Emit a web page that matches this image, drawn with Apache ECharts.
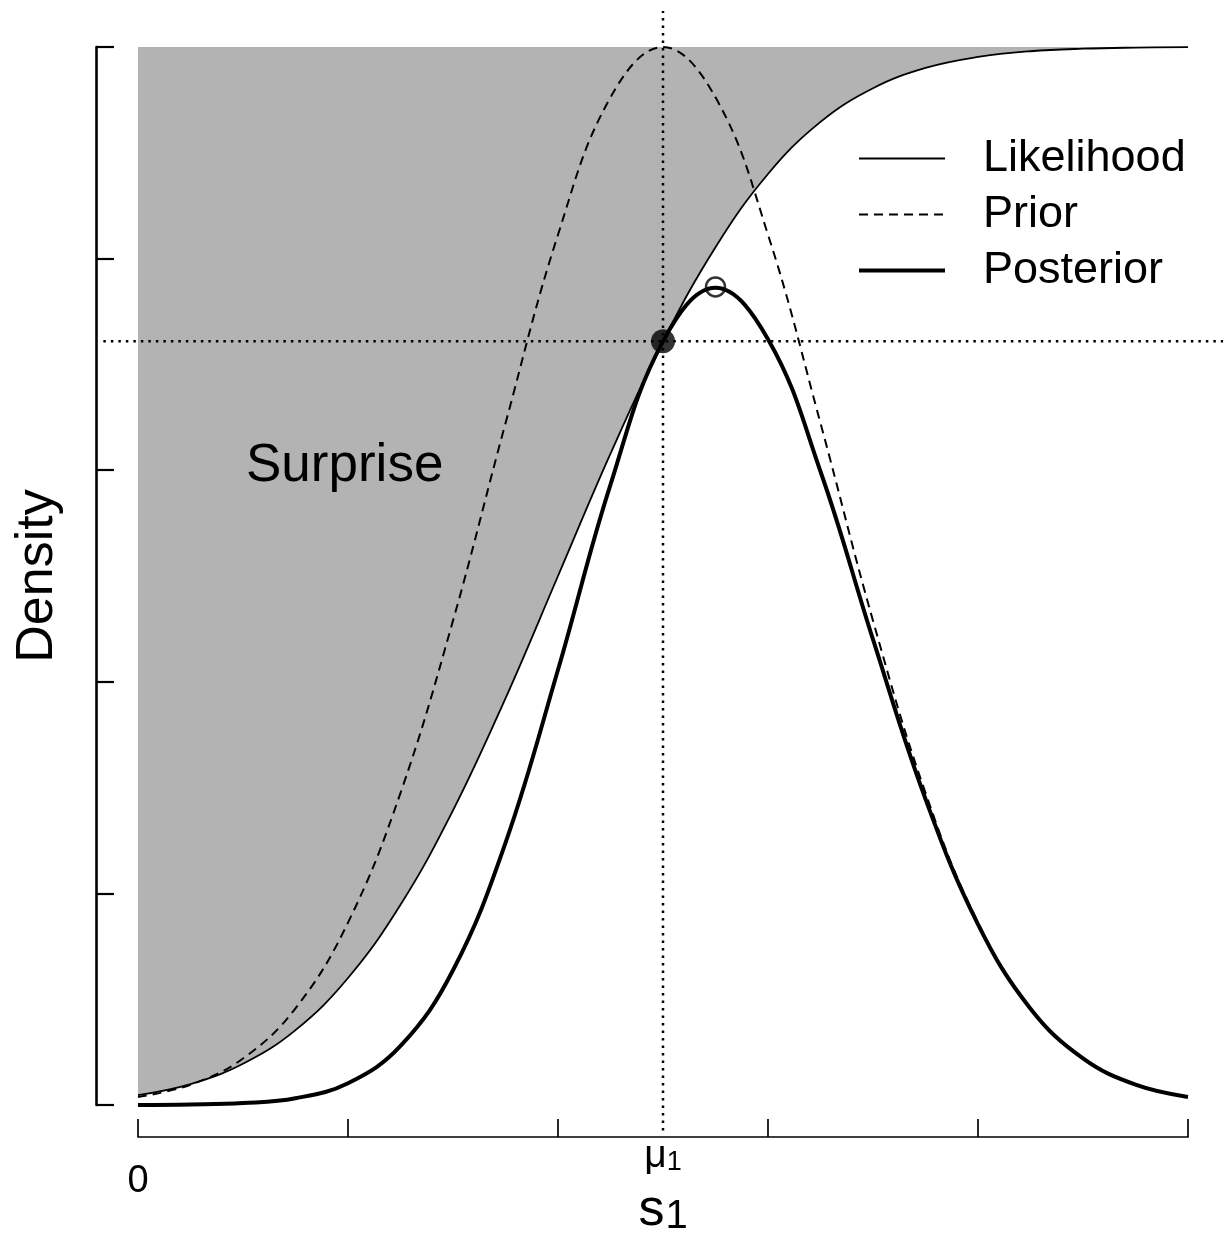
<!DOCTYPE html>
<html>
<head>
<meta charset="utf-8">
<script src="https://cdn.jsdelivr.net/npm/echarts@6/dist/echarts.min.js"></script>
<style>
html,body{margin:0;padding:0;background:#fff;}
#chart{width:1230px;height:1241px;}
</style>
</head>
<body>
<div id="chart"></div>
<script>
// x positions (s1), step 0.25
const xs = [0,0.25,0.5,0.75,1,1.25,1.5,1.75,2,2.25,2.5,2.75,3,3.25,3.5,3.75,4,4.25,4.5,4.75,5];
const likelihood = [0.047,0.099,0.195,0.354,0.600,0.946,1.392,1.922,2.500,3.078,3.609,4.054,4.400,4.646,4.805,4.901,4.953,4.980,4.992,4.997,4.999];
const prior = [0.038,0.096,0.220,0.457,0.862,1.475,2.289,3.222,4.113,4.762,5.000,4.762,4.113,3.222,2.289,1.475,0.862,0.457,0.220,0.096,0.038];
const posterior = [0.000,0.002,0.009,0.032,0.103,0.279,0.637,1.239,2.057,2.932,3.609,3.862,3.619,2.994,2.200,1.446,0.854,0.455,0.220,0.096,0.038];
const mu1 = 2.5;
const muDensity = 3.609;
const postPeak = [2.75, 3.866];
const vLineY = [-0.12, 5.17];
const hLineX = [-0.165, 5.167];
const xTicks = [0,1,2,3,4,5];
const legendNames = ['Likelihood','Prior','Posterior'];

const FONT = '"Liberation Sans", Arial, Helvetica, sans-serif';
const pair = (a, b) => a.map((v, i) => [v, b[i]]);
const dotted = {stroke: '#000', lineWidth: 2.5, lineDash: [2.5, 5]};

const chart = echarts.init(document.getElementById('chart'), null, {renderer:'canvas'});
chart.setOption({
  animation: false,
  backgroundColor: '#fff',
  textStyle: {fontFamily: FONT},
  grid: {left: 138, right: 42, top: 47, bottom: 136, containLabel: false, outerBoundsMode: 'none'},
  legend: {
    data: [
      {name: legendNames[0], lineStyle: {width: 2}},
      {name: legendNames[1], lineStyle: {width: 2}},
      {name: legendNames[2], lineStyle: {width: 4}}
    ],
    orient: 'vertical',
    left: 852, top: 131,
    itemWidth: 86, itemHeight: 20, itemGap: 11,
    selectedMode: false,
    itemStyle: {opacity: 0, color: 'rgba(0,0,0,0)', borderWidth: 0},
    textStyle: {fontSize: 45, fontFamily: FONT, color: '#000', padding: [0,0,0,33]}
  },
  xAxis: [{
    type: 'value', min: 0, max: 5, interval: 1, offset: 32, position: 'bottom',
    axisLine: {onZero: false, lineStyle: {color: '#000', width: 1.7}},
    axisTick: {inside: true, length: 18, customValues: xTicks, lineStyle: {color: '#000', width: 1.7}},
    axisLabel: {customValues: [0], fontSize: 38, color: '#000', margin: 26, fontFamily: FONT},
    splitLine: {show: false},
    name: '{s|s}{n|1}', nameLocation: 'middle', nameGap: 48, nameMoveOverlap: false,
    nameTextStyle: {rich: {
      s: {fontSize: 52, fontFamily: FONT, color: '#000', verticalAlign: 'bottom'},
      n: {fontSize: 40, fontFamily: FONT, color: '#000', verticalAlign: 'bottom', padding: [0,0,0,1]}
    }}
  }, {
    type: 'value', min: 0, max: 5, offset: 32, position: 'bottom',
    axisLine: {show: false, onZero: false}, axisTick: {show: false}, splitLine: {show: false},
    axisLabel: {customValues: [mu1], margin: 0, formatter: () => '{m|μ}{n|1}',
      rich: {
        m: {fontSize: 39, fontFamily: FONT, color: '#000', verticalAlign: 'bottom'},
        n: {fontSize: 27, fontFamily: FONT, color: '#000', verticalAlign: 'bottom'}
      }}
  }],
  yAxis: {
    type: 'value', min: 0, max: 5, interval: 1, offset: 42,
    axisLine: {show: true, onZero: false, lineStyle: {color: '#000', width: 2.6}},
    axisTick: {show: true, inside: true, length: 18, lineStyle: {color: '#000', width: 2.2}},
    axisLabel: {show: false},
    splitLine: {show: false},
    name: 'Density', nameLocation: 'middle', nameGap: 32, nameRotate: 90, nameMoveOverlap: false,
    nameTextStyle: {fontSize: 52, color: '#000', fontFamily: FONT}
  },
  graphic: [{
    type: 'text', left: 246, top: 440, z: 100,
    style: {text: 'Surprise', fontSize: 53, fontFamily: FONT, fill: '#000'}
  }],
  series: [
    {
      name: 'Likelihood', type: 'line', data: pair(xs, likelihood),
      smooth: 0.4, symbol: 'none', z: 2,
      lineStyle: {color: '#000', width: 1.8},
      itemStyle: {color: '#000'},
      areaStyle: {origin: 'end', color: '#b3b3b3', opacity: 1}
    },
    {
      name: 'vline', type: 'custom', clip: false, z: 3, silent: true,
      data: [[mu1, vLineY[0], vLineY[1]]],
      encode: {x: 0, y: [1, 2]},
      renderItem: (params, api) => {
        const a = api.coord([api.value(0), api.value(1)]);
        const b = api.coord([api.value(0), api.value(2)]);
        return {type: 'line', shape: {x1: a[0], y1: a[1], x2: b[0], y2: b[1]}, style: dotted};
      }
    },
    {
      name: 'hline', type: 'custom', clip: false, z: 3, silent: true,
      data: [[hLineX[0], hLineX[1], muDensity]],
      encode: {x: [0, 1], y: 2},
      renderItem: (params, api) => {
        const a = api.coord([api.value(0), api.value(2)]);
        const b = api.coord([api.value(1), api.value(2)]);
        return {type: 'line', shape: {x1: a[0], y1: a[1], x2: b[0], y2: b[1]}, style: dotted};
      }
    },
    {
      name: 'Prior', type: 'line', data: pair(xs, prior),
      smooth: 0.4, symbol: 'none', z: 4,
      lineStyle: {color: '#000', width: 2, type: [9, 6]},
      itemStyle: {color: '#000'}
    },
    {
      name: 'Posterior', type: 'line', data: pair(xs, posterior),
      smooth: 0.4, symbol: 'none', z: 5,
      lineStyle: {color: '#000', width: 4},
      itemStyle: {color: '#000'}
    },
    {
      name: 'muPoint', type: 'scatter', data: [[mu1, muDensity]], z: 6, clip: false,
      symbol: 'circle', symbolSize: 24, itemStyle: {color: '#000'}
    },
    {
      name: 'peakPoint', type: 'scatter', data: [postPeak], z: 6, clip: false,
      symbol: 'circle', symbolSize: 19,
      itemStyle: {color: 'rgba(0,0,0,0)', borderColor: '#000', borderWidth: 2.5}
    }
  ]
});
</script>
</body>
</html>
